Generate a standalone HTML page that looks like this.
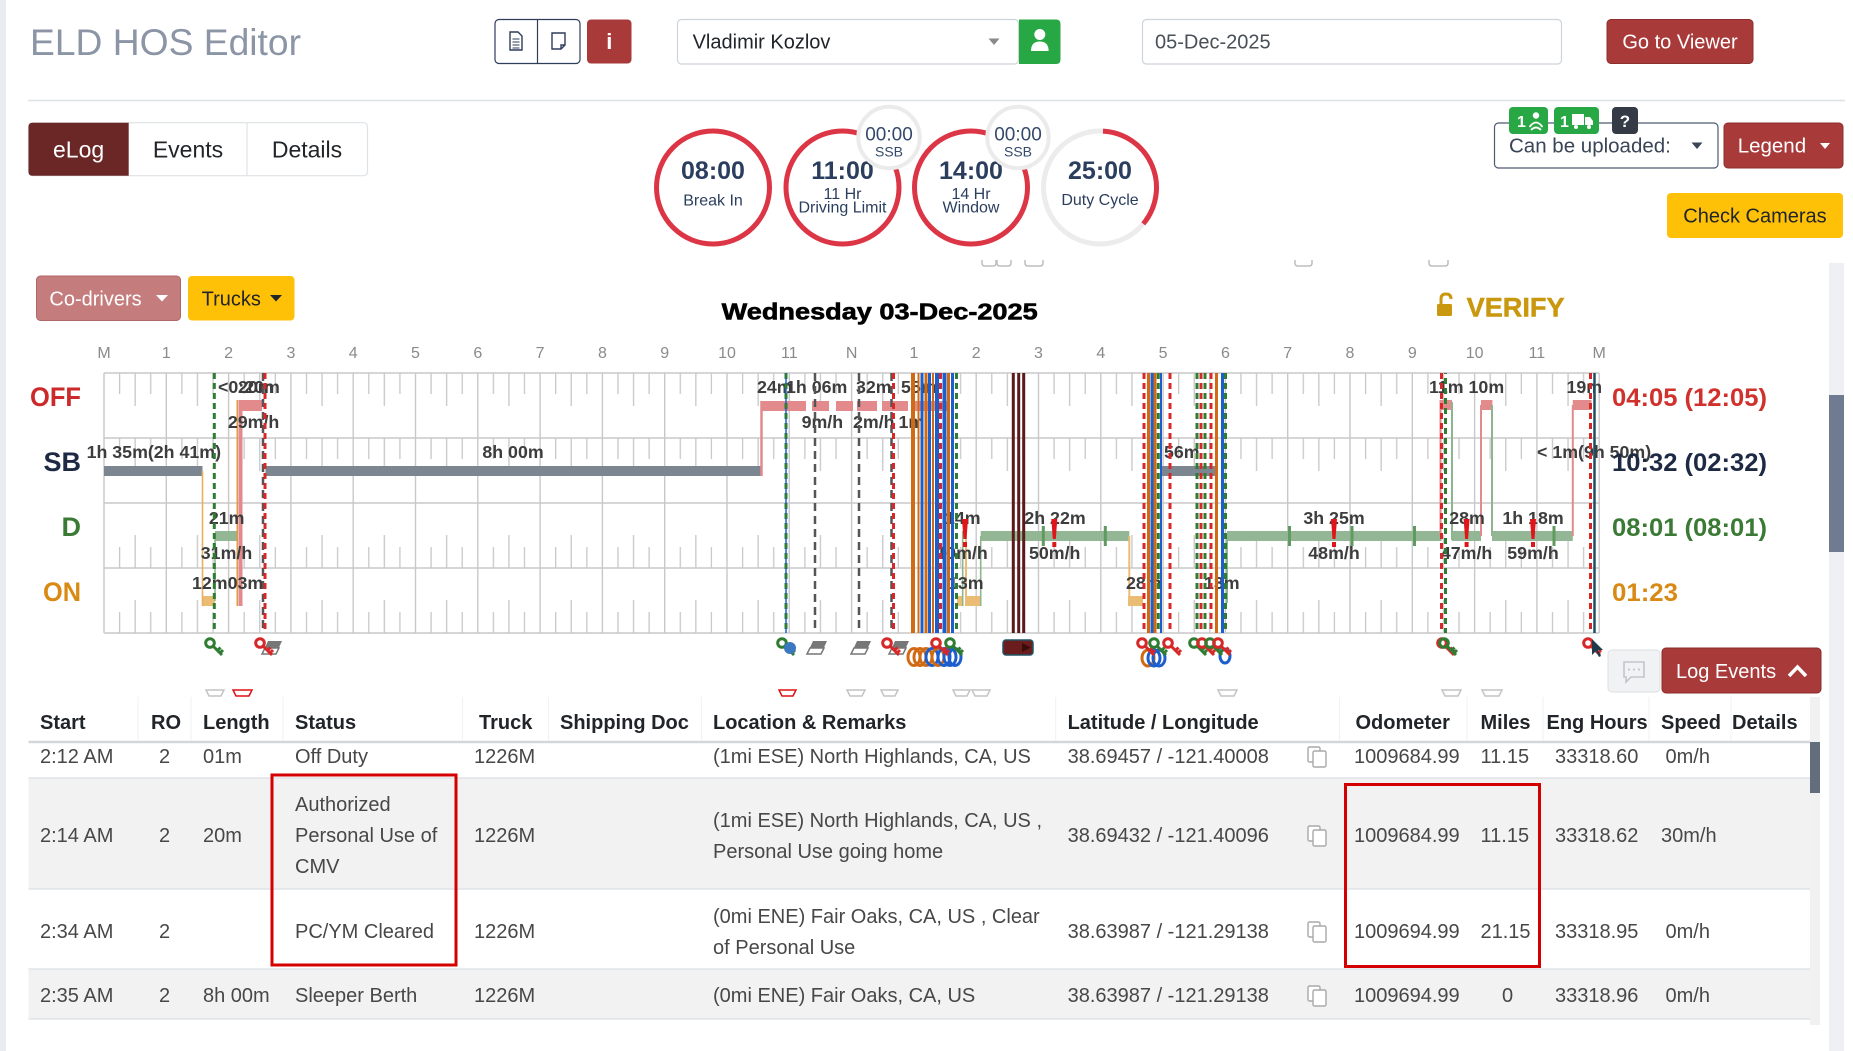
<!DOCTYPE html>
<html><head><meta charset="utf-8"><title>ELD HOS Editor</title>
<style>
html,body{margin:0;padding:0;background:#fff;width:1853px;height:1051px;overflow:hidden}
svg{display:block;font-family:"Liberation Sans",Arial,sans-serif}
.lb{font-weight:bold;font-size:17.8px;fill:#3d3d3d}
.rd{stroke:#d62828;stroke-width:3;stroke-dasharray:6 4}
.gd{stroke:#2e7d32;stroke-width:3;stroke-dasharray:6 4}
.yd{stroke:#555;stroke-width:2.5;stroke-dasharray:8 5}
.bd{stroke:#1e62c8;stroke-width:3;stroke-dasharray:6 4;stroke-dashoffset:5}
.os{stroke:#d06a14;stroke-width:3}
.bs{stroke:#1c5fcc;stroke-width:3}
.th{font-weight:bold;font-size:20px;fill:#212529}
.td{font-size:20px;fill:#474747}
.hr{font-size:16px;fill:#8a8a8a;text-anchor:middle}
</style></head><body>
<svg width="1853" height="1051" viewBox="0 0 1853 1051" xmlns="http://www.w3.org/2000/svg">
<defs>
<pattern id="tkTop" x="104" y="373" width="62.3" height="65" patternUnits="userSpaceOnUse">
<rect x="14.93" y="0" width="1.3" height="21" fill="#c8c8c8"/>
<rect x="30.5" y="0" width="1.3" height="33" fill="#c8c8c8"/>
<rect x="46.08" y="0" width="1.3" height="21" fill="#c8c8c8"/>
</pattern>
<pattern id="tkBot" x="104" y="503" width="62.3" height="65" patternUnits="userSpaceOnUse">
<rect x="14.93" y="44" width="1.3" height="21" fill="#c8c8c8"/>
<rect x="30.5" y="32" width="1.3" height="33" fill="#c8c8c8"/>
<rect x="46.08" y="44" width="1.3" height="21" fill="#c8c8c8"/>
</pattern>
<symbol id="key" viewBox="0 0 20 20"><circle cx="6" cy="6" r="4.3" fill="none" stroke="currentColor" stroke-width="3"/><path d="M9 9 L18 18 M13.5 13.5 L16.5 10.5 M16 16 L19 13" stroke="currentColor" stroke-width="3" fill="none"/></symbol>
<symbol id="ers" viewBox="0 0 24 16"><path d="M2 15 L8 2 H22 L16 15 Z" fill="#777"/><path d="M2 15 L5 9 H19 L16 15 Z" fill="#fff" stroke="#777" stroke-width="1.5"/></symbol>
</defs>

<!-- left strip -->
<rect x="0" y="0" width="6" height="1051" fill="#e9ecf1"/>

<!-- ===== HEADER ===== -->
<text x="30" y="55" font-size="37" fill="#8b95a5" textLength="271" lengthAdjust="spacingAndGlyphs">ELD HOS Editor</text>

<rect x="495" y="19.5" width="85" height="44" rx="4" fill="#fff" stroke="#2e3d5a" stroke-width="1.2"/>
<line x1="537.5" y1="19.5" x2="537.5" y2="63.5" stroke="#2e3d5a" stroke-width="1.2"/>
<path d="M510 32 H518 L522 36 V50 H510 Z" fill="none" stroke="#2e3d5a" stroke-width="1.4"/>
<path d="M512.5 39 H519.5 M512.5 42 H519.5 M512.5 45 H519.5 M512.5 48 H519.5" stroke="#2e3d5a" stroke-width="1.1"/>
<path d="M552 33 H565 V45 L561 49 H552 Z M561 49 V45 H565" fill="none" stroke="#2e3d5a" stroke-width="1.4"/>
<rect x="587" y="19.5" width="44.5" height="44" rx="4" fill="#a83a3a"/>
<text x="609.3" y="49" font-size="22" font-weight="bold" fill="#fff" text-anchor="middle">i</text>

<rect x="677.5" y="19.5" width="341" height="44.5" rx="4" fill="#fff" stroke="#ced4da" stroke-width="1.2"/>
<text x="692.6" y="48.7" font-size="20" fill="#212529">Vladimir Kozlov</text>
<path d="M988.5 38.5 H999.5 L994 45 Z" fill="#8a8a8a"/>
<path d="M1019 19.5 H1056 Q1060.5 19.5 1060.5 24 V59.5 Q1060.5 64 1056 64 H1019 Z" fill="#28a745"/>
<circle cx="1039.8" cy="34.5" r="5.5" fill="#fff"/>
<path d="M1031 51 Q1031 41.5 1039.8 41.5 Q1048.6 41.5 1048.6 51 Z" fill="#fff"/>

<rect x="1142.5" y="19.5" width="419" height="44.5" rx="4" fill="#fff" stroke="#ced4da" stroke-width="1.2"/>
<text x="1155" y="48.7" font-size="20" fill="#495057">05-Dec-2025</text>

<rect x="1607" y="19.5" width="146" height="44" rx="4" fill="#a83a3a" stroke="#8e2f2f"/>
<text x="1680" y="48.5" font-size="20" fill="#fff" text-anchor="middle">Go to Viewer</text>

<line x1="28" y1="100.5" x2="1845" y2="100.5" stroke="#dee2e6" stroke-width="1.5"/>

<!-- tabs -->
<rect x="28.5" y="122.7" width="339" height="53" rx="4" fill="#fff" stroke="#dee2e6" stroke-width="1.2"/>
<path d="M128.7 122.7 H32.5 Q28.5 122.7 28.5 126.7 V171.7 Q28.5 175.7 32.5 175.7 H128.7 Z" fill="#6b2626"/>
<line x1="247" y1="122.7" x2="247" y2="175.7" stroke="#dee2e6" stroke-width="1.2"/>
<text x="78.6" y="157.4" font-size="23" fill="#fff" text-anchor="middle">eLog</text>
<text x="188" y="157.4" font-size="23" fill="#212529" text-anchor="middle">Events</text>
<text x="307" y="157.4" font-size="23" fill="#212529" text-anchor="middle">Details</text>

<!-- circles -->
<circle cx="713" cy="187.5" r="56.5" fill="#fff" stroke="#dc3545" stroke-width="5"/>
<circle cx="842.5" cy="187.5" r="56.5" fill="#fff" stroke="#dc3545" stroke-width="5"/>
<circle cx="971" cy="187.5" r="56.5" fill="#fff" stroke="#dc3545" stroke-width="5"/>
<circle cx="1100" cy="187.5" r="56.5" fill="#fff" stroke="#ececec" stroke-width="5"/>
<path d="M1102.97 131.07 A56.5 56.5 0 0 1 1143.28 223.82" fill="none" stroke="#dc3545" stroke-width="5"/>
<g fill="#2b3e5e" text-anchor="middle">
<text x="713" y="179" font-size="25" font-weight="bold">08:00</text>
<text x="713" y="205.5" font-size="16">Break In</text>
<text x="842.5" y="179" font-size="25" font-weight="bold">11:00</text>
<text x="842.5" y="199" font-size="16">11 Hr</text>
<text x="842.5" y="212.5" font-size="16">Driving Limit</text>
<text x="971" y="179" font-size="25" font-weight="bold">14:00</text>
<text x="971" y="199" font-size="16">14 Hr</text>
<text x="971" y="212.5" font-size="16">Window</text>
<text x="1100" y="179" font-size="25" font-weight="bold">25:00</text>
<text x="1100" y="205" font-size="16">Duty Cycle</text>
</g>
<circle cx="889" cy="137.5" r="30.7" fill="#fff" stroke="#ebebeb" stroke-width="4"/>
<circle cx="1018" cy="137.5" r="30.7" fill="#fff" stroke="#ebebeb" stroke-width="4"/>
<g fill="#34496b" text-anchor="middle">
<text x="889" y="140.7" font-size="19">00:00</text>
<text x="889" y="156.7" font-size="14">SSB</text>
<text x="1018" y="140.7" font-size="19">00:00</text>
<text x="1018" y="156.7" font-size="14">SSB</text>
</g>

<!-- right header -->
<rect x="1494.5" y="123" width="223.5" height="45" rx="4" fill="#fff" stroke="#4d5b70" stroke-width="1.2"/>
<text x="1509" y="152.5" font-size="20.5" fill="#3a4556">Can be uploaded:</text>
<path d="M1691.5 142.5 H1702.5 L1697 149 Z" fill="#3a4556"/>
<rect x="1509" y="107" width="39" height="27" rx="4" fill="#28a745"/>
<text x="1517" y="127" font-size="16" font-weight="bold" fill="#fff">1</text>
<circle cx="1536" cy="115.5" r="3.2" fill="#fff"/>
<path d="M1529.5 127 Q1536 118 1542.5 127 M1531 130 Q1536 125 1541 130" fill="none" stroke="#fff" stroke-width="1.8"/>
<rect x="1554" y="107" width="45" height="27" rx="4" fill="#28a745"/>
<text x="1560" y="127" font-size="16" font-weight="bold" fill="#fff">1</text>
<rect x="1572" y="114" width="12" height="11" fill="#fff"/>
<path d="M1585 117 H1590 L1593 121 V125 H1585 Z" fill="#fff"/>
<circle cx="1576" cy="127" r="2" fill="#fff"/><circle cx="1589" cy="127" r="2" fill="#fff"/>
<rect x="1612" y="107" width="26" height="27" rx="4" fill="#343a46"/>
<text x="1625" y="127" font-size="17" font-weight="bold" fill="#fff" text-anchor="middle">?</text>
<rect x="1724" y="123" width="119" height="45" rx="4" fill="#a83a3a" stroke="#8e2f2f"/>
<text x="1737.7" y="152.5" font-size="20.5" fill="#fff">Legend</text>
<path d="M1820 143 H1830 L1825 149 Z" fill="#fff"/>
<rect x="1667" y="193" width="176" height="45" rx="4" fill="#ffc107"/>
<text x="1755" y="222.5" font-size="20" fill="#212529" text-anchor="middle">Check Cameras</text>

<!-- co-drivers / trucks -->
<rect x="36.5" y="276" width="144" height="44.5" rx="4" fill="#c47c7c" stroke="#b06666"/>
<text x="49.4" y="305.5" font-size="20" fill="#fff">Co-drivers</text>
<path d="M156 295 H168 L162 301.5 Z" fill="#fff"/>
<rect x="188" y="276" width="106.5" height="44.5" rx="4" fill="#ffc107"/>
<text x="201.6" y="305.5" font-size="20" fill="#212529">Trucks</text>
<path d="M270 295 H282 L276 301.5 Z" fill="#212529"/>

<!-- chart title -->
<text x="721.7" y="319.5" font-size="23" font-weight="bold" fill="#000" stroke="#000" stroke-width="0.6" textLength="316" lengthAdjust="spacingAndGlyphs">Wednesday 03-Dec-2025</text>
<!-- verify -->
<path d="M1441 304 V299 Q1441 294 1446 294 Q1451 294 1451 299" fill="none" stroke="#c9980f" stroke-width="3"/>
<rect x="1437" y="304" width="15" height="12" rx="1.5" fill="#c9980f"/>
<text x="1466.6" y="316.5" font-size="27" font-weight="bold" fill="#c9980f" stroke="#c9980f" stroke-width="0.5" textLength="98" lengthAdjust="spacingAndGlyphs">VERIFY</text>

<!-- tiny markers above chart -->
<g fill="none" stroke="#bdbdbd" stroke-width="1.5">
<path d="M982 260 V263 Q982 266 985 266 H993 Q996 266 996 263 V260"/>
<path d="M997 260 V263 Q997 266 1000 266 H1008 Q1011 266 1011 263 V260"/>
<path d="M1025 260 V263 Q1025 266 1028 266 H1040 Q1043 266 1043 263 V260"/>
<path d="M1295 260 V263 Q1295 266 1298 266 H1309 Q1312 266 1312 263 V260"/>
<path d="M1429 260 V263 Q1429 266 1432 266 H1445 Q1448 266 1448 263 V260"/>
</g>

<!-- hour labels -->
<g class="hr">
<text x="104" y="358">M</text><text x="166.3" y="358">1</text><text x="228.6" y="358">2</text><text x="290.9" y="358">3</text>
<text x="353.2" y="358">4</text><text x="415.5" y="358">5</text><text x="477.8" y="358">6</text><text x="540.1" y="358">7</text>
<text x="602.4" y="358">8</text><text x="664.7" y="358">9</text><text x="727" y="358">10</text><text x="789.3" y="358">11</text>
<text x="851.6" y="358">N</text><text x="913.9" y="358">1</text><text x="976.2" y="358">2</text><text x="1038.5" y="358">3</text>
<text x="1100.8" y="358">4</text><text x="1163.1" y="358">5</text><text x="1225.4" y="358">6</text><text x="1287.7" y="358">7</text>
<text x="1350" y="358">8</text><text x="1412.3" y="358">9</text><text x="1474.6" y="358">10</text><text x="1536.9" y="358">11</text>
<text x="1599.2" y="358">M</text>
</g>

<!-- row labels -->
<text x="81" y="406" font-size="27" font-weight="bold" fill="#cc2a2a" text-anchor="end" textLength="51" lengthAdjust="spacingAndGlyphs">OFF</text>
<text x="81" y="471" font-size="27" font-weight="bold" fill="#1e2a44" text-anchor="end">SB</text>
<text x="81" y="536" font-size="27" font-weight="bold" fill="#3b7a35" text-anchor="end">D</text>
<text x="81" y="601" font-size="27" font-weight="bold" fill="#d98a14" text-anchor="end" textLength="38" lengthAdjust="spacingAndGlyphs">ON</text>

<!-- grid -->
<rect x="104" y="373" width="1495" height="130" fill="url(#tkTop)"/>
<rect x="104" y="503" width="1495" height="130" fill="url(#tkBot)"/>
<g stroke="#c8c8c8" stroke-width="1.4">
<line x1="104" y1="373" x2="1599.2" y2="373"/><line x1="104" y1="438" x2="1599.2" y2="438"/>
<line x1="104" y1="503" x2="1599.2" y2="503"/><line x1="104" y1="568" x2="1599.2" y2="568"/>
<line x1="104" y1="633" x2="1599.2" y2="633"/>
<line x1="104" y1="373" x2="104" y2="633"/><line x1="166.3" y1="373" x2="166.3" y2="633"/>
<line x1="228.6" y1="373" x2="228.6" y2="633"/><line x1="290.9" y1="373" x2="290.9" y2="633"/>
<line x1="353.2" y1="373" x2="353.2" y2="633"/><line x1="415.5" y1="373" x2="415.5" y2="633"/>
<line x1="477.8" y1="373" x2="477.8" y2="633"/><line x1="540.1" y1="373" x2="540.1" y2="633"/>
<line x1="602.4" y1="373" x2="602.4" y2="633"/><line x1="664.7" y1="373" x2="664.7" y2="633"/>
<line x1="727" y1="373" x2="727" y2="633"/><line x1="789.3" y1="373" x2="789.3" y2="633"/>
<line x1="851.6" y1="373" x2="851.6" y2="633"/><line x1="913.9" y1="373" x2="913.9" y2="633"/>
<line x1="976.2" y1="373" x2="976.2" y2="633"/><line x1="1038.5" y1="373" x2="1038.5" y2="633"/>
<line x1="1100.8" y1="373" x2="1100.8" y2="633"/><line x1="1163.1" y1="373" x2="1163.1" y2="633"/>
<line x1="1225.4" y1="373" x2="1225.4" y2="633"/><line x1="1287.7" y1="373" x2="1287.7" y2="633"/>
<line x1="1350" y1="373" x2="1350" y2="633"/><line x1="1412.3" y1="373" x2="1412.3" y2="633"/>
<line x1="1474.6" y1="373" x2="1474.6" y2="633"/><line x1="1536.9" y1="373" x2="1536.9" y2="633"/>
<line x1="1599.2" y1="373" x2="1599.2" y2="633"/>
</g>

<!-- bars -->
<g fill="#7c8691">
<rect x="104" y="466" width="98.5" height="10"/>
<rect x="265.5" y="466" width="496" height="10"/>
<rect x="1160" y="466" width="56.5" height="10"/>
</g>
<g fill="#ebbd74">
<rect x="202" y="596" width="13" height="10"/>
<rect x="957" y="596" width="6" height="10"/>
<rect x="967" y="596" width="14" height="10"/>
<rect x="1128" y="596" width="15" height="10"/>
</g>
<g fill="#93b794">
<rect x="215" y="531" width="22" height="10"/>
<rect x="980.7" y="531" width="148.6" height="10"/>
<rect x="1227" y="531" width="214.6" height="10"/>
<rect x="1452" y="531" width="29" height="10"/>
<rect x="1492" y="531" width="80.8" height="10"/>
</g>
<g fill="#e38a8d">
<rect x="240" y="400" width="22" height="11"/>
<rect x="761" y="401" width="45" height="10"/>
<rect x="812" y="401" width="17" height="10"/>
<rect x="836" y="401" width="17" height="10"/>
<rect x="857" y="401" width="20" height="10"/>
<rect x="882" y="401" width="26" height="10"/>
<rect x="913" y="401" width="34" height="10"/>
<rect x="1439.5" y="400" width="12.5" height="10"/>
<rect x="1481" y="400" width="11.4" height="10"/>
<rect x="1572.8" y="400" width="18.7" height="10"/>
<rect x="238.5" y="400" width="4" height="206"/>
</g>
<!-- transitions -->
<g fill="none">
<line x1="202.5" y1="471" x2="202.5" y2="606" stroke="#e8b060" stroke-width="1.6"/>
<line x1="215" y1="536" x2="215" y2="601" stroke="#8fb58f" stroke-width="1.6"/>
<line x1="237.3" y1="400" x2="237.3" y2="606" stroke="#e09a4a" stroke-width="1.6"/>
<line x1="761.5" y1="401" x2="761.5" y2="476" stroke="#e38a8d" stroke-width="2.5"/>
<line x1="962.7" y1="531" x2="962.7" y2="606" stroke="#8fb58f" stroke-width="1.6"/>
<line x1="966" y1="525" x2="966" y2="606" stroke="#ebbd74" stroke-width="2"/>
<line x1="980.7" y1="536" x2="980.7" y2="606" stroke="#8fb58f" stroke-width="1.6"/>
<line x1="1129.3" y1="536" x2="1129.3" y2="606" stroke="#ebbd74" stroke-width="2"/>
<line x1="1227" y1="536" x2="1227" y2="603" stroke="#8fb58f" stroke-width="2"/>
<line x1="1440.5" y1="405" x2="1440.5" y2="536" stroke="#e38a8d" stroke-width="2"/>
<line x1="1452" y1="402" x2="1452" y2="540" stroke="#8fb58f" stroke-width="2"/>
<line x1="1481" y1="405" x2="1481" y2="536" stroke="#e38a8d" stroke-width="2"/>
<line x1="1492" y1="405" x2="1492" y2="536" stroke="#8fb58f" stroke-width="2"/>
<line x1="1572.8" y1="405" x2="1572.8" y2="536" stroke="#e38a8d" stroke-width="2"/>
</g>
<g fill="#5f9a5f">
<rect x="1041.8" y="526" width="3" height="20"/><rect x="1103.8" y="526" width="3" height="20"/>
<rect x="1288" y="526" width="3" height="20"/><rect x="1350.5" y="526" width="3" height="20"/>
<rect x="1413" y="526" width="3" height="20"/><rect x="1552.5" y="526" width="3" height="20"/>
</g>

<!-- labels -->
<g class="lb">
<text x="218" y="393">&lt;0:20m</text><text x="238" y="393">20m</text>
<text x="757" y="393">24m</text><text x="786" y="393">1h 06m</text><text x="856" y="393">32m</text><text x="901" y="393">55m</text>
<text x="1429" y="393">11m 10m</text><text x="1566.5" y="393">19m</text>
<text x="253.6" y="428" text-anchor="middle">29m/h</text>
<text x="801.6" y="428">9m/h</text><text x="853" y="428">2m/h</text><text x="898.5" y="428">1m</text>
<text x="221" y="458" text-anchor="end">1h 35m(2h 41m)</text>
<text x="513" y="458" text-anchor="middle">8h 00m</text>
<text x="1164" y="458">56m</text>
<text x="1537" y="458">&lt; 1m(9h 50m)</text>
<text x="226.7" y="524" text-anchor="middle">21m</text>
<text x="945" y="524">14m</text>
<text x="1055" y="524" text-anchor="middle">2h 22m</text>
<text x="1334" y="524" text-anchor="middle">3h 25m</text>
<text x="1467" y="524" text-anchor="middle">28m</text>
<text x="1533" y="524" text-anchor="middle">1h 18m</text>
<text x="226.5" y="559" text-anchor="middle">31m/h</text>
<text x="962" y="559" text-anchor="middle">10m/h</text>
<text x="1054.7" y="559" text-anchor="middle">50m/h</text>
<text x="1334" y="559" text-anchor="middle">48m/h</text>
<text x="1466.6" y="559" text-anchor="middle">47m/h</text>
<text x="1533" y="559" text-anchor="middle">59m/h</text>
<text x="192" y="589">12m03m</text>
<text x="948" y="589">13m</text>
<text x="1126" y="589">28m</text>
<text x="1204" y="589">13m</text>
</g>

<!-- event lines -->
<g>
<line x1="214.3" y1="373" x2="214.3" y2="633" class="gd"/>
<line x1="263" y1="373" x2="263" y2="633" class="yd"/>
<line x1="265" y1="373" x2="265" y2="633" class="rd"/>
<line x1="786" y1="373" x2="786" y2="633" class="gd"/>
<line x1="786" y1="373" x2="786" y2="633" class="bd" style="stroke-width:1.5"/>
<line x1="815" y1="373" x2="815" y2="633" class="yd"/>
<line x1="859" y1="373" x2="859" y2="633" class="yd"/>
<line x1="891.5" y1="373" x2="891.5" y2="633" class="yd"/>
<line x1="893.5" y1="373" x2="893.5" y2="633" class="rd"/>
<!-- cluster A -->
<line x1="913" y1="373" x2="913" y2="633" class="os" style="stroke-width:4"/>
<line x1="918.5" y1="373" x2="918.5" y2="633" class="os" style="stroke-width:2"/>
<line x1="922" y1="373" x2="922" y2="633" class="bs"/>
<line x1="926" y1="373" x2="926" y2="633" class="os"/>
<line x1="929.5" y1="373" x2="929.5" y2="633" class="bs"/>
<line x1="933" y1="373" x2="933" y2="633" class="os" style="stroke-width:2"/>
<line x1="937" y1="373" x2="937" y2="633" class="bs" style="stroke-width:4"/>
<line x1="940.5" y1="373" x2="940.5" y2="633" class="rd"/>
<line x1="944.5" y1="373" x2="944.5" y2="633" class="bs" style="stroke-width:4"/>
<line x1="948.5" y1="373" x2="948.5" y2="633" class="os"/>
<line x1="952.5" y1="373" x2="952.5" y2="633" class="bs"/>
<line x1="956.5" y1="373" x2="956.5" y2="633" class="gd"/>
<!-- maroon -->
<line x1="1013.3" y1="373" x2="1013.3" y2="633" stroke="#5b1a1a" stroke-width="3"/>
<line x1="1018.7" y1="373" x2="1018.7" y2="633" stroke="#5b1a1a" stroke-width="3"/>
<line x1="1023.7" y1="373" x2="1023.7" y2="633" stroke="#5b1a1a" stroke-width="3"/>
<!-- cluster B -->
<line x1="1144" y1="373" x2="1144" y2="633" class="rd"/>
<line x1="1148.5" y1="373" x2="1148.5" y2="633" class="os"/>
<line x1="1152" y1="373" x2="1152" y2="633" class="bs"/>
<line x1="1155" y1="373" x2="1155" y2="633" class="os"/>
<line x1="1158.3" y1="373" x2="1158.3" y2="633" class="gd"/>
<line x1="1161" y1="373" x2="1161" y2="633" class="bs" style="stroke-width:2"/>
<line x1="1170" y1="373" x2="1170" y2="633" class="rd"/>
<!-- cluster C -->
<line x1="1197" y1="373" x2="1197" y2="633" class="gd"/>
<line x1="1201" y1="373" x2="1201" y2="633" class="rd"/>
<line x1="1205" y1="373" x2="1205" y2="633" class="gd"/>
<line x1="1211" y1="373" x2="1211" y2="633" class="rd"/>
<line x1="1216.5" y1="373" x2="1216.5" y2="633" class="os"/>
<line x1="1222.5" y1="373" x2="1222.5" y2="633" class="bs"/>
<line x1="1225.5" y1="373" x2="1225.5" y2="633" class="gd"/>
<!-- right -->
<line x1="1441.5" y1="373" x2="1441.5" y2="633" class="rd"/>
<line x1="1445.5" y1="373" x2="1445.5" y2="633" class="gd" style="stroke-dashoffset:5"/>
<line x1="1590.5" y1="373" x2="1590.5" y2="633" class="rd"/>
<line x1="1594.5" y1="373" x2="1594.5" y2="633" stroke="#1f4e5f" stroke-width="2.5"/>
</g>

<!-- exclamation marks -->
<g fill="#e0141b">
<path d="M962 519 H968 L966.5 539 H963.5 Z"/><rect x="963" y="542" width="4" height="5"/>
<path d="M1051.3 519 H1057.3 L1055.8 539 H1052.8 Z"/><rect x="1052.3" y="542" width="4" height="5"/>
<path d="M1331 519 H1337 L1335.5 539 H1332.5 Z"/><rect x="1332" y="542" width="4" height="5"/>
<path d="M1463.6 519 H1469.6 L1468.1 539 H1465.1 Z"/><rect x="1464.6" y="542" width="4" height="5"/>
<path d="M1530 519 H1536 L1534.5 539 H1531.5 Z"/><rect x="1531" y="542" width="4" height="5"/>
</g>

<!-- totals -->
<text x="1612" y="406" font-size="25" font-weight="bold" fill="#d0312d" textLength="155" lengthAdjust="spacingAndGlyphs">04:05 (12:05)</text>
<text x="1612" y="471" font-size="25" font-weight="bold" fill="#1e2a44" textLength="155" lengthAdjust="spacingAndGlyphs">10:32 (02:32)</text>
<text x="1612" y="536" font-size="25" font-weight="bold" fill="#3b7a35" textLength="155" lengthAdjust="spacingAndGlyphs">08:01 (08:01)</text>
<text x="1612" y="601" font-size="25" font-weight="bold" fill="#d98a14" textLength="66" lengthAdjust="spacingAndGlyphs">01:23</text>

<!-- bottom icons -->
<use href="#key" x="204" y="637" width="20" height="20" color="#2e7d32"/>
<use href="#ers" x="260" y="639" width="24" height="16"/>
<use href="#key" x="254" y="637" width="20" height="20" color="#d62828"/>
<use href="#key" x="776" y="637" width="20" height="20" color="#2e7d32"/>
<circle cx="790" cy="648" r="6" fill="#3b78c0"/>
<use href="#ers" x="805" y="639" width="24" height="16"/>
<use href="#ers" x="849" y="639" width="24" height="16"/>
<use href="#ers" x="887" y="639" width="24" height="16"/>
<use href="#key" x="881" y="637" width="20" height="20" color="#d62828"/>
<g fill="none" stroke-width="3">
<ellipse cx="914" cy="657" rx="6" ry="8.5" stroke="#d06a14"/>
<ellipse cx="920" cy="657" rx="6" ry="8.5" stroke="#d06a14"/>
<ellipse cx="926" cy="657" rx="6" ry="8.5" stroke="#d06a14"/>
<ellipse cx="932" cy="657" rx="6" ry="8.5" stroke="#1c5fcc"/>
<ellipse cx="938" cy="657" rx="6" ry="8.5" stroke="#d06a14"/>
<ellipse cx="944" cy="657" rx="6" ry="8.5" stroke="#1c5fcc"/>
<ellipse cx="950" cy="657" rx="6" ry="8.5" stroke="#1c5fcc"/>
<ellipse cx="955" cy="657" rx="6" ry="8.5" stroke="#1c5fcc"/>
</g>
<use href="#key" x="930" y="637" width="20" height="20" color="#d62828"/>
<use href="#key" x="944" y="637" width="20" height="20" color="#2e7d32"/>
<rect x="1003" y="640" width="30" height="15" rx="3" fill="#6b1d1d" stroke="#1f5566" stroke-width="1.5"/>
<path d="M1022 643 L1031 647.5 L1022 652 Z" fill="#3a0d0d"/>
<g fill="none" stroke-width="3">
<ellipse cx="1148" cy="658" rx="6" ry="8" stroke="#d06a14"/>
<ellipse cx="1154" cy="658" rx="6" ry="8" stroke="#1c5fcc"/>
<ellipse cx="1159" cy="658" rx="6" ry="8" stroke="#1c5fcc"/>
<ellipse cx="1225" cy="656" rx="5" ry="7" stroke="#1c5fcc"/>
</g>
<use href="#key" x="1136" y="637" width="20" height="20" color="#d62828"/>
<use href="#key" x="1148" y="637" width="20" height="20" color="#2e7d32"/>
<use href="#key" x="1162" y="637" width="20" height="20" color="#d62828"/>
<use href="#key" x="1188" y="637" width="20" height="20" color="#2e7d32"/>
<use href="#key" x="1196" y="637" width="20" height="20" color="#d62828"/>
<use href="#key" x="1204" y="637" width="20" height="20" color="#2e7d32"/>
<use href="#key" x="1212" y="637" width="20" height="20" color="#d62828"/>
<use href="#key" x="1436" y="637" width="20" height="20" color="#d62828"/>
<use href="#key" x="1438" y="637" width="20" height="20" color="#2e7d32"/>
<use href="#key" x="1582" y="637" width="20" height="20" color="#d62828"/>
<path d="M1592 639 L1592 655 L1596 651 L1599 657 L1601 656 L1598 650 L1603 650 Z" fill="#1f3a4a"/>

<!-- comment + log events -->
<rect x="1608" y="650" width="52" height="42" rx="4" fill="#f1f2f4" stroke="#dcdfe3"/>
<path d="M1624 662 H1644 V677 H1631 L1626 682 V677 H1624 Z" fill="none" stroke="#c2c6cc" stroke-width="1.6"/>
<circle cx="1629" cy="669.5" r="1.1" fill="#c2c6cc"/><circle cx="1634" cy="669.5" r="1.1" fill="#c2c6cc"/><circle cx="1639" cy="669.5" r="1.1" fill="#c2c6cc"/>
<rect x="1662" y="648" width="159" height="45" rx="4" fill="#a83a3a" stroke="#8a2c2c"/>
<text x="1676" y="678" font-size="20" fill="#fff">Log Events</text>
<path d="M1789 676 L1797.5 667 L1806 676" fill="none" stroke="#fff" stroke-width="3.5"/>

<!-- page scrollbar -->
<rect x="1829" y="263" width="15" height="788" fill="#eef0f3"/>
<rect x="1829" y="395" width="15" height="157" fill="#6e7b91"/>

<!-- ===== TABLE ===== -->
<g fill="none" stroke-width="1.5">
<path d="M206 690 H224 L221 696 H209 Z" stroke="#c4c4c4"/>
<path d="M233 690 H252 L249 696 H236 Z" stroke="#e01010"/>
<path d="M779 690 H796 L793 696 H782 Z" stroke="#e01010"/>
<path d="M847 690 H865 L862 696 H850 Z" stroke="#c4c4c4"/>
<path d="M881 690 H898 L895 696 H884 Z" stroke="#c4c4c4"/>
<path d="M953 690 H970 L967 696 H956 Z" stroke="#c4c4c4"/>
<path d="M972 690 H990 L987 696 H975 Z" stroke="#c4c4c4"/>
<path d="M1218 690 H1237 L1234 696 H1221 Z" stroke="#c4c4c4"/>
<path d="M1442 690 H1461 L1458 696 H1445 Z" stroke="#c4c4c4"/>
<path d="M1482 690 H1502 L1499 696 H1485 Z" stroke="#c4c4c4"/>
</g>
<rect x="1810" y="697" width="10" height="328" fill="#f1f1f1"/>
<rect x="1810" y="742" width="10" height="51" fill="#626e7c"/>
<rect x="28.5" y="778" width="1781.5" height="111" fill="#f2f2f2"/>
<rect x="28.5" y="969" width="1781.5" height="50" fill="#f2f2f2"/>
<g stroke="#f1f3f5" stroke-width="1.2">
<line x1="138" y1="697" x2="138" y2="742"/><line x1="191" y1="697" x2="191" y2="742"/>
<line x1="283" y1="697" x2="283" y2="742"/><line x1="462.5" y1="697" x2="462.5" y2="742"/>
<line x1="548.5" y1="697" x2="548.5" y2="742"/><line x1="701.5" y1="697" x2="701.5" y2="742"/>
<line x1="1055.6" y1="697" x2="1055.6" y2="742"/><line x1="1339.5" y1="697" x2="1339.5" y2="742"/>
<line x1="1467" y1="697" x2="1467" y2="742"/><line x1="1543" y1="697" x2="1543" y2="742"/>
<line x1="1649" y1="697" x2="1649" y2="742"/><line x1="1731" y1="697" x2="1731" y2="742"/>
</g>
<line x1="28.5" y1="742" x2="1810" y2="742" stroke="#d3d7dc" stroke-width="2.5"/>
<g stroke="#e0e3e7" stroke-width="1.5">
<line x1="28.5" y1="778" x2="1810" y2="778"/><line x1="28.5" y1="889" x2="1810" y2="889"/>
<line x1="28.5" y1="969" x2="1810" y2="969"/><line x1="28.5" y1="1019" x2="1810" y2="1019"/>
</g>
<g class="th">
<text x="40" y="729">Start</text><text x="151" y="729">RO</text><text x="203" y="729">Length</text>
<text x="295" y="729">Status</text><text x="479" y="729">Truck</text><text x="560" y="729">Shipping Doc</text>
<text x="713" y="729">Location &amp; Remarks</text><text x="1067.6" y="729">Latitude / Longitude</text>
<text x="1355.5" y="729">Odometer</text><text x="1480.5" y="729">Miles</text><text x="1546.5" y="729">Eng Hours</text>
<text x="1661" y="729">Speed</text><text x="1732" y="729">Details</text>
</g>
<g class="td">
<text x="40" y="763">2:12 AM</text><text x="159" y="763">2</text><text x="203" y="763">01m</text>
<text x="295" y="763">Off Duty</text><text x="474" y="763">1226M</text>
<text x="713" y="763">(1mi ESE) North Highlands, CA, US</text>
<text x="1067.6" y="763">38.69457 / -121.40008</text>
<text x="1354" y="763">1009684.99</text><text x="1480.5" y="763">11.15</text>
<text x="1555" y="763">33318.60</text><text x="1665.5" y="763">0m/h</text>

<text x="40" y="842">2:14 AM</text><text x="159" y="842">2</text><text x="203" y="842">20m</text>
<text x="295" y="811">Authorized</text><text x="295" y="842">Personal Use of</text><text x="295" y="873">CMV</text>
<text x="474" y="842">1226M</text>
<text x="713" y="827">(1mi ESE) North Highlands, CA, US ,</text>
<text x="713" y="858">Personal Use going home</text>
<text x="1067.6" y="842">38.69432 / -121.40096</text>
<text x="1354" y="842">1009684.99</text><text x="1480.5" y="842">11.15</text>
<text x="1555" y="842">33318.62</text><text x="1661" y="842">30m/h</text>

<text x="40" y="938">2:34 AM</text><text x="159" y="938">2</text>
<text x="295" y="938">PC/YM Cleared</text><text x="474" y="938">1226M</text>
<text x="713" y="923">(0mi ENE) Fair Oaks, CA, US , Clear</text>
<text x="713" y="954">of Personal Use</text>
<text x="1067.6" y="938">38.63987 / -121.29138</text>
<text x="1354" y="938">1009694.99</text><text x="1480.5" y="938">21.15</text>
<text x="1555" y="938">33318.95</text><text x="1665.5" y="938">0m/h</text>

<text x="40" y="1002">2:35 AM</text><text x="159" y="1002">2</text><text x="203" y="1002">8h 00m</text>
<text x="295" y="1002">Sleeper Berth</text><text x="474" y="1002">1226M</text>
<text x="713" y="1002">(0mi ENE) Fair Oaks, CA, US</text>
<text x="1067.6" y="1002">38.63987 / -121.29138</text>
<text x="1354" y="1002">1009694.99</text><text x="1502" y="1002">0</text>
<text x="1555" y="1002">33318.96</text><text x="1665.5" y="1002">0m/h</text>
</g>
<!-- copy icons -->
<g fill="#fff" stroke="#a9a9a9" stroke-width="1.4">
<rect x="1308" y="747" width="12" height="15" rx="1.5"/><rect x="1313" y="751" width="13" height="16" rx="1.5"/>
<rect x="1308" y="826" width="12" height="15" rx="1.5"/><rect x="1313" y="830" width="13" height="16" rx="1.5"/>
<rect x="1308" y="922" width="12" height="15" rx="1.5"/><rect x="1313" y="926" width="13" height="16" rx="1.5"/>
<rect x="1308" y="986" width="12" height="15" rx="1.5"/><rect x="1313" y="990" width="13" height="16" rx="1.5"/>
</g>
<!-- red highlight boxes -->
<rect x="272" y="775" width="184" height="190" fill="none" stroke="#d40000" stroke-width="3"/>
<rect x="1345.5" y="784.5" width="194" height="182" fill="none" stroke="#d40000" stroke-width="3"/>
</svg>
</body></html>
